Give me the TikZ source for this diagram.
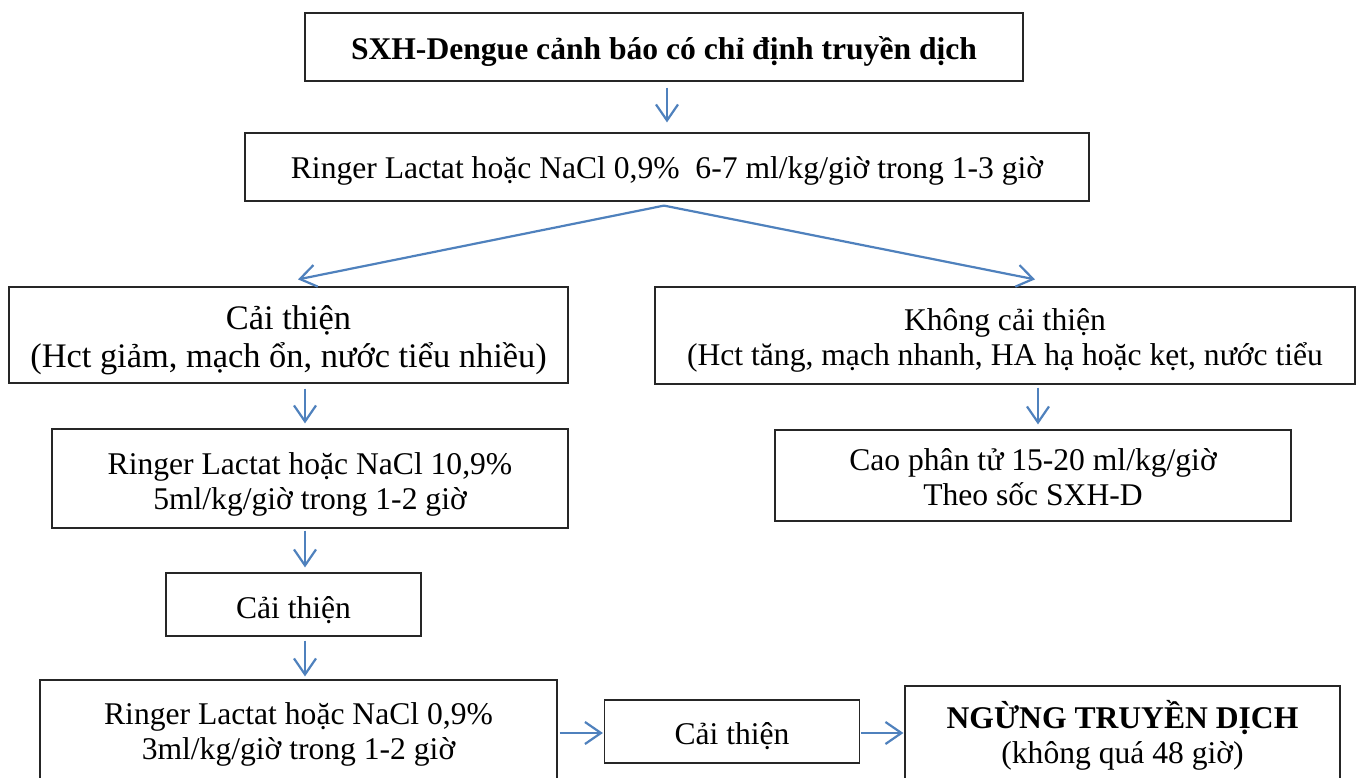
\documentclass[tikz,border=0pt]{standalone}
\usepackage{fontspec}
\setmainfont{Liberation Serif}
\usetikzlibrary{arrows.meta}
\definecolor{arrblue}{RGB}{79,129,189}
\newcommand{\T}[2][5.5pt]{\raisebox{-#1}[\height][\depth]{\begin{tabular}{@{}c@{}}#2\end{tabular}}}
\tikzset{
  box/.style={draw=black!85, line width=1.2pt, inner sep=0pt, font=\fontsize{31.6}{35}\selectfont},
  bigbox/.style={box, font=\fontsize{34.4}{38}\selectfont},
  arr/.style={draw=arrblue, line width=2.2pt, -{Straight Barb[length=16pt,width=22pt,line width=2.2pt]}}
}
\begin{document}
\begin{tikzpicture}[x=1pt,y=-1pt]
\useasboundingbox (0,0) rectangle (1357,777);
\clip (0,0) rectangle (1357,777);
\fill[white] (0,0) rectangle (1357,777);
\node[box, minimum width=718pt, minimum height=68pt] (b1) at (664,47) {\T{\textbf{SXH-Dengue cảnh báo có chỉ định truyền dịch}}};
\node[box, minimum width=844pt, minimum height=68pt] (b2) at (667,167) {\T[4.5pt]{Ringer Lactat hoặc NaCl 0,9\%\ \ 6-7 ml/kg/giờ trong 1-3 giờ}};
\node[bigbox, minimum width=559pt, minimum height=96pt] (b3) at (288.5,335) {\T[6pt]{Cải thiện\\(Hct giảm, mạch ổn, nước tiểu nhiều)}};
\node[box, minimum width=700pt, minimum height=97pt] (b4) at (1005,335.5) {\T{Không cải thiện\\(Hct tăng, mạch nhanh, HA hạ hoặc kẹt, nước tiểu}};
\node[box, minimum width=516pt, minimum height=91pt] (b5) at (1033,475.5) {\T{Cao phân tử 15-20 ml/kg/giờ\\Theo sốc SXH-D}};
\node[box, minimum width=516pt, minimum height=99pt] (b6) at (310,478.5) {\T[6pt]{Ringer Lactat hoặc NaCl 10,9\%\\5ml/kg/giờ trong 1-2 giờ}};
\node[box, minimum width=255pt, minimum height=63pt] (b7) at (293.5,604.5) {\T[6.5pt]{Cải thiện}};
\node[box, minimum width=517pt, minimum height=102pt] (b8) at (298.5,731) {\T[4pt]{Ringer Lactat hoặc NaCl 0,9\%\\3ml/kg/giờ trong 1-2 giờ}};
\node[box, minimum width=255pt, minimum height=63pt] (b9) at (732,731.5) {\T[6pt]{Cải thiện}};
\node[box, minimum width=435pt, minimum height=96pt] (b10) at (1122.5,734) {\T[3pt]{\textbf{NGỪNG TRUYỀN DỊCH}\\(không quá 48 giờ)}};
\draw[arr] ([xshift=3pt,yshift=-6pt]b1.south) -- ([xshift=0pt,yshift=10pt]b2.north);
\draw[arr] ([xshift=-3pt,yshift=-4pt]b2.south) -- ([xshift=9.5pt,yshift=7pt]b3.north);
\draw[arr] ([xshift=-3pt,yshift=-4pt]b2.south) -- ([xshift=30pt,yshift=7pt]b4.north);
\draw[arr] ([xshift=16.5pt,yshift=-5pt]b3.south) -- ([xshift=-5pt,yshift=5pt]b6.north);
\draw[arr] ([xshift=33pt,yshift=-3pt]b4.south) -- ([xshift=5pt,yshift=5pt]b5.north);
\draw[arr] ([xshift=-5pt,yshift=-2pt]b6.south) -- ([xshift=11.5pt,yshift=5pt]b7.north);
\draw[arr] ([xshift=11.5pt,yshift=-4pt]b7.south) -- ([xshift=6.5pt,yshift=3pt]b8.north);
\draw[arr] ([xshift=2pt,yshift=-2pt]b8.east) -- ([xshift=-1pt,yshift=-1.5pt]b9.west);
\draw[arr] ([xshift=1pt,yshift=-1.5pt]b9.east) -- ([xshift=-1pt,yshift=1pt]b10.west);
\end{tikzpicture}
\end{document}
